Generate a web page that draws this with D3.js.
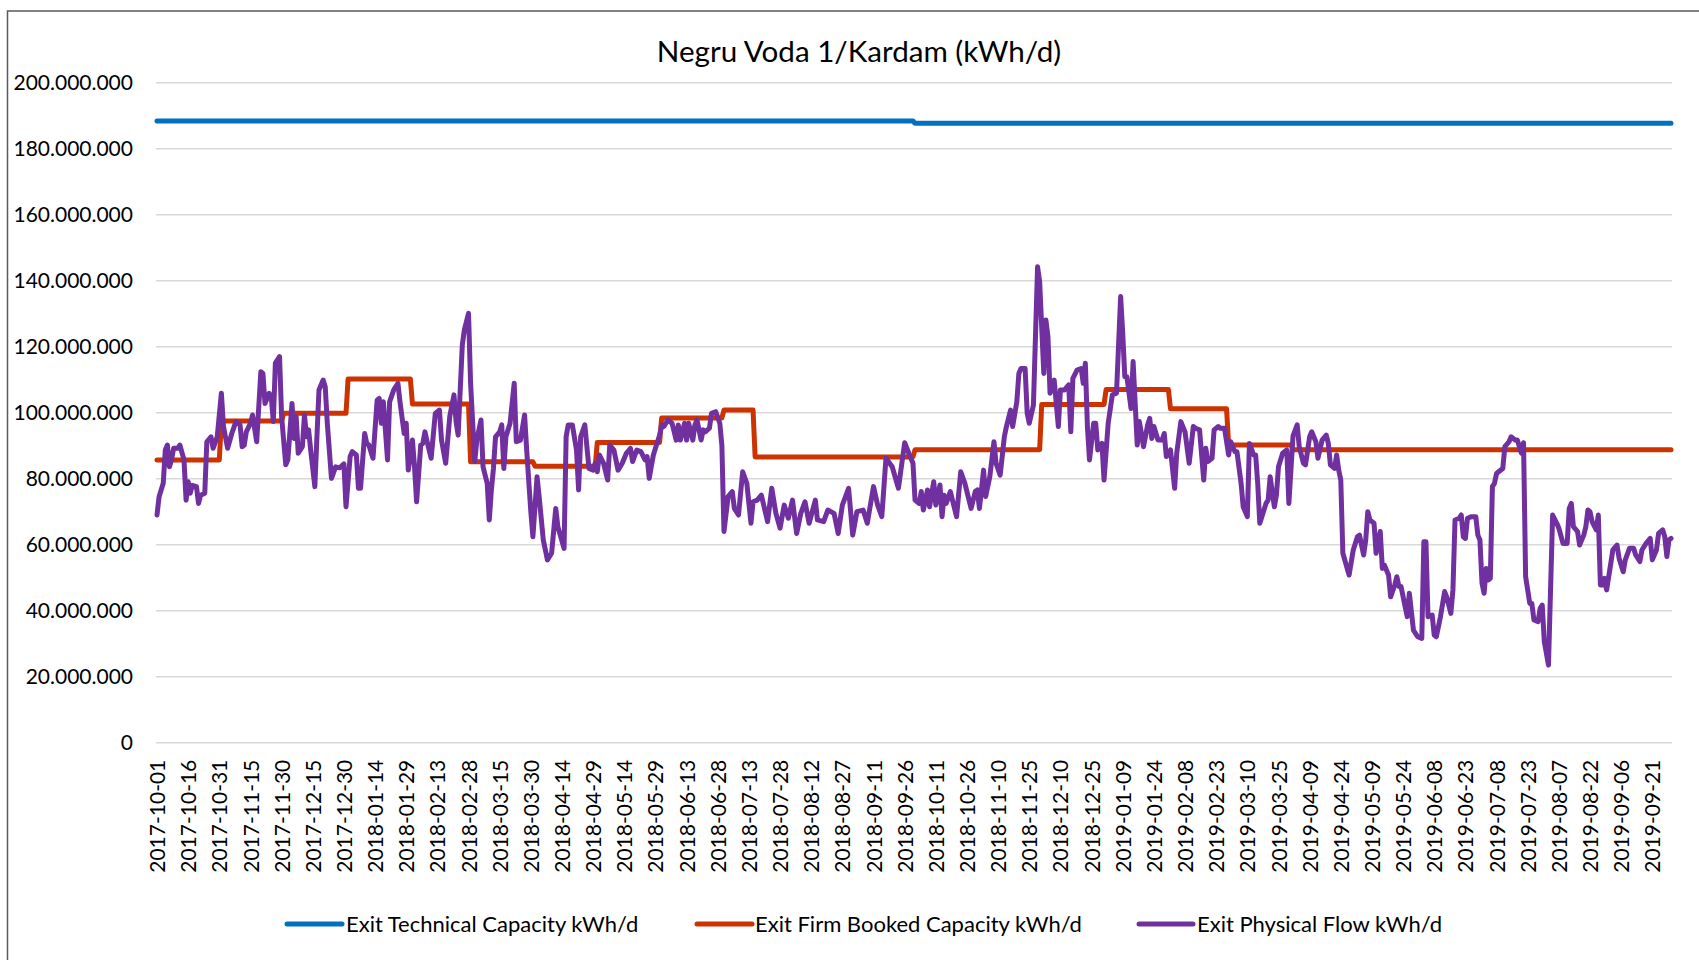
<!DOCTYPE html>
<html>
<head>
<meta charset="utf-8">
<script src="https://cdn.jsdelivr.net/npm/d3@7"></script>
<style>
  html, body { margin: 0; padding: 0; background: #ffffff; }
  svg { display: block; font-family: Lato, "Open Sans", sans-serif; }
</style>
</head>
<body>
<svg id="chart" width="1699" height="960"></svg>
<script>
// ---------------- DATA ----------------
const chartTitle = "Negru Voda 1/Kardam (kWh/d)";
const firstDay = "2017-10-01";
const lastDay = "2019-09-30";

const seriesNames = [
  "Exit Technical Capacity kWh/d",
  "Exit Firm Booked Capacity kWh/d",
  "Exit Physical Flow kWh/d"
];

const yTicks = [0, 20e6, 40e6, 60e6, 80e6, 100e6, 120e6, 140e6, 160e6, 180e6, 200e6];

const xTickLabels = [
  "2017-10-01","2017-10-16","2017-10-31","2017-11-15","2017-11-30","2017-12-15","2017-12-30",
  "2018-01-14","2018-01-29","2018-02-13","2018-02-28","2018-03-15","2018-03-30","2018-04-14",
  "2018-04-29","2018-05-14","2018-05-29","2018-06-13","2018-06-28","2018-07-13","2018-07-28",
  "2018-08-12","2018-08-27","2018-09-11","2018-09-26","2018-10-11","2018-10-26","2018-11-10",
  "2018-11-25","2018-12-10","2018-12-25","2019-01-09","2019-01-24","2019-02-08","2019-02-23",
  "2019-03-10","2019-03-25","2019-04-09","2019-04-24","2019-05-09","2019-05-24","2019-06-08",
  "2019-06-23","2019-07-08","2019-07-23","2019-08-07","2019-08-22","2019-09-06","2019-09-21"
];

// Technical capacity: [period start date, value in million kWh/d]
const technicalPeriods = [
  ["2017-10-01", 188.4],
  ["2018-10-01", 187.7]
];

// Firm booked capacity: [period start date, value in million kWh/d]
const bookedPeriods = [
  ["2017-10-01", 85.7],
  ["2017-11-01", 97.5],
  ["2017-12-01", 99.8],
  ["2018-01-01", 110.2],
  ["2018-02-01", 102.6],
  ["2018-03-01", 85.1],
  ["2018-04-01", 83.8],
  ["2018-05-01", 91.0],
  ["2018-06-01", 98.4],
  ["2018-07-01", 100.8],
  ["2018-07-16", 86.6],
  ["2018-10-01", 88.8],
  ["2018-12-01", 102.5],
  ["2019-01-01", 107.0],
  ["2019-02-01", 101.2],
  ["2019-03-01", 90.2],
  ["2019-04-01", 88.8]
];

// Physical flow readings: [day number counted from 2017-10-01, value in million kWh/d]
const flowReadings = [
[0,69.0],[1,74.5],[3,78.6],[4,88.7],[5,90.2],[6,83.6],[7,85.7],[8,89.2],[10,89.2],[11,90.2],
[13,85.7],[14,73.5],[15,79.1],[16,75.6],[17,78.0],[19,77.6],[20,72.5],[21,75.0],[23,75.6],[24,91.2],
[26,92.7],[27,89.2],[29,92.7],[31,105.9],[32,95.8],[34,89.2],[36,93.7],[38,97.3],[40,96.3],[41,89.7],
[42,90.2],[43,94.2],[45,96.8],[46,99.3],[48,91.2],[50,112.4],[51,111.9],[52,102.8],[54,105.9],[55,104.9],
[56,97.3],[57,115.0],[59,117.0],[60,98.8],[62,84.2],[63,85.7],[65,102.8],[66,92.2],[67,98.8],[68,87.7],
[70,89.7],[71,99.3],[72,92.7],[73,94.8],[74,88.7],[76,77.6],[77,92.7],[78,106.9],[80,109.9],[81,107.9],
[82,96.8],[84,80.1],[86,83.6],[88,83.3],[90,84.5],[91,71.5],[93,86.7],[94,88.2],[96,87.2],[97,77.1],
[98,77.1],[100,93.7],[101,90.7],[102,90.2],[104,86.2],[106,103.8],[107,104.3],[108,96.8],[109,103.3],[111,85.7],
[112,103.3],[114,106.9],[116,108.9],[117,103.3],[119,93.7],[120,96.8],[121,82.6],[123,91.7],[124,83.6],[125,73.0],
[127,90.2],[128,90.7],[129,94.2],[131,88.7],[132,86.2],[134,99.8],[136,100.8],[137,91.7],[139,84.7],[141,99.0],
[143,105.4],[144,97.3],[145,93.2],[147,120.5],[148,125.1],[150,130.1],[151,108.9],[153,85.2],[154,91.7],[156,97.8],
[157,83.6],[159,78.6],[160,67.5],[161,76.6],[162,83.1],[163,92.7],[165,94.2],[166,96.3],[167,83.1],[168,92.7],
[170,96.8],[172,108.9],[173,91.2],[175,91.7],[177,99.3],[178,88.7],[180,70.0],[181,62.4],[183,80.6],[184,74.6],
[186,61.4],[188,55.4],[190,57.4],[192,71.0],[193,65.5],[196,58.9],[197,92.7],[198,96.3],[200,96.3],[202,88.7],
[203,76.6],[204,92.7],[206,96.3],[208,83.1],[210,82.6],[211,84.7],[212,82.1],[213,87.2],[215,84.7],[217,79.6],
[218,90.2],[220,88.7],[222,82.6],[224,84.7],[226,87.7],[228,89.2],[229,85.2],[231,88.7],[233,88.2],[235,85.7],
[236,86.7],[237,80.1],[239,87.2],[240,89.2],[242,93.2],[243,96.3],[244,95.8],[246,97.8],[248,96.8],[250,91.7],
[251,96.3],[252,91.7],[254,96.8],[255,91.7],[256,96.8],[258,91.7],[259,96.3],[260,97.8],[262,91.7],[263,94.8],
[264,94.2],[266,95.3],[267,99.8],[269,100.3],[271,96.8],[272,90.0],[273,64.0],[275,74.6],[277,76.1],[278,71.0],
[280,69.0],[282,82.1],[284,78.6],[286,66.5],[287,73.0],[289,73.5],[291,75.0],[294,67.0],[296,77.1],[298,69.5],
[300,65.0],[302,72.0],[304,68.0],[306,73.5],[308,63.4],[310,69.5],[312,73.0],[314,66.5],[317,73.5],[318,67.5],
[321,67.0],[323,70.5],[326,69.5],[328,63.4],[330,72.0],[333,77.1],[335,62.9],[337,70.0],[340,70.5],[342,66.5],
[345,77.6],[347,72.0],[349,68.5],[351,86.2],[354,83.6],[357,77.1],[360,90.9],[362,87.7],[364,84.7],[365,73.5],
[367,72.5],[368,76.1],[369,70.5],[371,76.6],[372,71.5],[374,79.1],[375,72.0],[377,78.1],[378,68.5],[379,75.0],
[380,72.5],[382,76.1],[385,68.5],[387,82.1],[389,78.6],[392,71.0],[394,76.1],[395,76.6],[396,71.0],[398,82.6],
[399,74.6],[401,80.6],[403,91.2],[404,84.7],[406,81.1],[408,92.7],[409,95.8],[411,100.8],[412,95.8],[414,103.3],
[415,111.9],[416,113.4],[418,113.4],[419,99.8],[420,96.8],[422,102.3],[424,144.2],[425,139.7],[427,111.9],[428,128.1],
[429,123.0],[430,105.9],[432,109.9],[434,95.8],[435,106.9],[437,106.9],[439,108.4],[440,94.2],[441,110.4],[443,112.9],
[445,113.4],[446,108.9],[447,115.0],[448,95.8],[449,85.7],[451,96.8],[452,96.8],[453,88.7],[455,90.7],[456,79.6],
[458,96.8],[460,105.4],[462,105.9],[464,135.2],[465,124.1],[466,110.9],[467,110.9],[469,101.3],[470,115.5],[472,90.2],
[473,97.3],[474,93.7],[475,89.7],[477,96.3],[478,98.3],[479,92.2],[480,95.8],[482,91.7],[484,91.7],[485,93.7],
[486,86.7],[488,88.7],[490,77.1],[491,87.7],[493,97.3],[495,94.2],[497,84.7],[499,95.8],[500,95.3],[502,94.8],
[504,79.6],[505,89.2],[506,85.2],[508,86.2],[509,94.8],[511,95.8],[512,95.3],[514,95.3],[516,87.2],[517,91.2],
[519,88.2],[520,88.2],[522,78.6],[523,71.5],[525,68.5],[526,90.7],[528,87.2],[529,87.2],[530,78.6],[531,66.5],
[532,68.5],[534,72.5],[535,73.5],[536,80.6],[538,71.5],[539,75.0],[540,83.6],[542,87.7],[544,88.7],[545,72.5],
[547,93.0],[549,96.3],[550,89.7],[552,84.7],[553,84.2],[555,92.7],[556,94.2],[558,91.2],[559,86.2],[561,91.7],
[563,93.2],[564,90.7],[565,84.2],[567,83.1],[568,87.2],[569,82.6],[570,79.6],[571,57.4],[574,50.8],[576,58.4],
[578,62.4],[579,62.9],[581,56.9],[582,61.4],[583,70.0],[584,67.5],[586,66.5],[587,57.4],[589,64.0],[590,52.8],
[591,53.8],[593,50.8],[594,44.2],[596,47.8],[597,50.3],[598,47.3],[599,47.3],[601,41.2],[602,38.2],[603,45.3],
[605,34.1],[606,33.1],[607,32.1],[609,31.6],[610,60.9],[611,60.9],[612,38.2],[614,38.7],[615,32.6],[616,32.1],
[618,38.2],[620,45.8],[621,44.2],[623,39.2],[624,46.3],[625,67.5],[627,68.0],[628,69.0],[629,62.4],[630,61.9],
[631,68.0],[633,68.5],[635,68.5],[636,62.9],[637,61.4],[638,48.3],[639,45.3],[640,52.8],[641,49.3],[642,49.8],
[643,77.6],[644,78.6],[645,81.6],[646,82.1],[648,83.1],[649,89.7],[651,91.2],[652,92.7],[654,91.7],[655,91.7],
[657,87.7],[658,90.9],[659,50.3],[661,42.2],[662,42.2],[663,37.2],[665,36.7],[666,40.7],[667,41.7],[668,30.6],
[669,27.1],[670,23.5],[671,46.3],[672,69.0],[674,66.5],[675,65.0],[677,60.4],[679,60.4],[680,71.0],[681,72.5],
[682,65.5],[684,64.0],[685,59.9],[687,62.9],[688,65.5],[689,70.5],[690,70.0],[691,67.0],[693,64.5],[694,69.0],
[695,47.8],[696,47.8],[697,49.8],[698,46.3],[700,54.3],[701,58.4],[703,59.9],[704,55.9],[706,51.8],[707,55.4],
[709,58.9],[711,58.9],[712,56.9],[714,54.9],[715,58.4],[717,60.4],[719,61.9],[720,55.4],[722,58.4],[723,63.4],
[725,64.5],[726,62.4],[727,56.4],[728,61.4],[729,61.9]
];

// ---------------- RENDER ----------------
const MILLION = 1e6;
const parse = d3.timeParse("%Y-%m-%d");
const start = parse(firstDay);
const end = parse(lastDay);

const svg = d3.select("#chart");
const plot = { left: 157, right: 1671, top: 82.7, bottom: 742.7 };

const x = d3.scaleTime().domain([start, end]).range([plot.left, plot.right]);
const y = d3.scaleLinear().domain([0, 200e6]).range([plot.bottom, plot.top]);

const colors = ["#0070C0", "#CC3300", "#7030A0"];
const lineWidth = 5;

// outer chart border
svg.append("rect")
  .attr("x", 7.5).attr("y", 11)
  .attr("width", 1720).attr("height", 1000)
  .attr("fill", "none").attr("stroke", "#595959").attr("stroke-width", 1.5);

// title
svg.append("text")
  .attr("x", 859).attr("y", 62)
  .attr("text-anchor", "middle")
  .attr("font-size", 29.6)
  .attr("fill", "#000")
  .text(chartTitle);

// gridlines
svg.append("g").selectAll("line").data(yTicks).join("line")
  .attr("x1", plot.left - 1).attr("x2", plot.right + 1)
  .attr("y1", d => y(d)).attr("y2", d => y(d))
  .attr("stroke", "#d9d9d9").attr("stroke-width", 1.5);

// y axis labels
const fmtLocale = d3.formatLocale({ decimal: ",", thousands: ".", grouping: [3], currency: ["", ""] });
const fmt = fmtLocale.format(",.0f");
const yAxis = d3.axisLeft(y).tickValues(yTicks).tickSize(0).tickPadding(23).tickFormat(fmt);
const gy = svg.append("g").attr("transform", `translate(${plot.left - 1},0)`).call(yAxis);
gy.select(".domain").remove();
gy.selectAll("text").attr("font-size", 21).attr("fill", "#000").attr("font-family", "Lato, sans-serif");

// x axis labels
const xAxis = d3.axisBottom(x).tickValues(xTickLabels.map(parse)).tickSize(0)
  .tickFormat(d3.timeFormat("%Y-%m-%d"));
const gx = svg.append("g").attr("transform", `translate(0,${plot.bottom})`).call(xAxis);
gx.select(".domain").remove();
gx.selectAll("text")
  .attr("font-size", 21).attr("fill", "#000").attr("font-family", "Lato, sans-serif")
  .attr("text-anchor", "end")
  .attr("transform", "rotate(-90)")
  .attr("x", -17).attr("y", 0).attr("dy", "0.36em");

// helper: build period step points
function periodPoints(periods) {
  const pts = [];
  periods.forEach((p, i) => {
    const s = parse(p[0]);
    const e = i < periods.length - 1 ? d3.timeDay.offset(parse(periods[i + 1][0]), -1) : end;
    pts.push([s, p[1] * MILLION]);
    pts.push([e, p[1] * MILLION]);
  });
  return pts;
}

const line = d3.line().x(d => x(d[0])).y(d => y(d[1]));

const techPts = periodPoints(technicalPeriods);
const bookPts = periodPoints(bookedPeriods);
const flowPts = flowReadings.map(r => [d3.timeDay.offset(start, r[0]), r[1] * MILLION]);

const lines = svg.append("g").attr("fill", "none")
  .attr("stroke-linejoin", "round").attr("stroke-linecap", "round");

lines.append("path").attr("d", line(techPts)).attr("stroke", colors[0]).attr("stroke-width", lineWidth);
lines.append("path").attr("d", line(bookPts)).attr("stroke", colors[1]).attr("stroke-width", lineWidth);
lines.append("path").attr("d", line(flowPts)).attr("stroke", colors[2]).attr("stroke-width", lineWidth);

// legend
const legendItems = [
  { x1: 287, x2: 342, tx: 346 },
  { x1: 697, x2: 752, tx: 755 },
  { x1: 1139, x2: 1193, tx: 1197 }
];
const lg = svg.append("g");
legendItems.forEach((it, i) => {
  lg.append("line").attr("x1", it.x1).attr("x2", it.x2).attr("y1", 924).attr("y2", 924)
    .attr("stroke", colors[i]).attr("stroke-width", lineWidth).attr("stroke-linecap", "round");
  lg.append("text").attr("x", it.tx).attr("y", 924).attr("dy", "0.35em")
    .attr("font-size", 22).attr("fill", "#000").text(seriesNames[i]);
});
</script>
</body>
</html>
